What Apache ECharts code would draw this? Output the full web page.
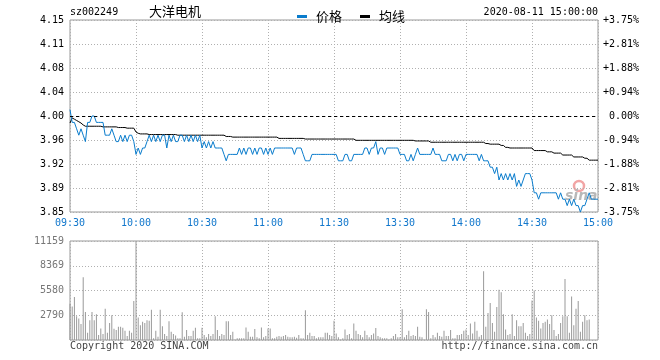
<!DOCTYPE html>
<html><head><meta charset="utf-8">
<script src="https://cdn.jsdelivr.net/npm/echarts@6/dist/echarts.min.js"></script>
<style>html,body{margin:0;padding:0;background:#fff}#c{width:660px;height:360px}</style>
</head><body><div id="c"></div>
<script>
const PRE_CLOSE = 4.00;
const stockCode = 'sz002249';
const stockName = '大洋电机';
const dateTime = '2020-08-11 15:00:00';
const timeTickLabels = ['09:30','10:00','10:30','11:00','11:30','13:30','14:00','14:30','15:00'];
const priceTickLabels = ['3.85','3.89','3.92','3.96','4.00','4.04','4.08','4.11','4.15'];
const pctTickLabels = ['-3.75%','-2.81%','-1.88%','-0.94%','0.00%','+0.94%','+1.88%','+2.81%','+3.75%'];
const volTickLabels = ['','2790','5580','8369','11159'];

const prices = [
4.01,3.99,3.99,3.98,3.97,3.98,3.97,3.96,3.99,3.99,
4.00,4.00,3.99,3.99,3.99,3.99,3.97,3.97,3.97,3.98,
3.97,3.96,3.96,3.97,3.96,3.97,3.96,3.97,3.97,3.96,
3.94,3.95,3.94,3.95,3.95,3.96,3.97,3.96,3.97,3.96,
3.97,3.96,3.97,3.97,3.95,3.97,3.96,3.97,3.96,3.96,
3.97,3.97,3.96,3.97,3.96,3.97,3.96,3.97,3.96,3.97,
3.95,3.96,3.95,3.96,3.95,3.96,3.95,3.95,3.95,3.95,
3.94,3.93,3.94,3.94,3.94,3.94,3.94,3.95,3.94,3.95,
3.94,3.95,3.95,3.94,3.95,3.94,3.95,3.95,3.94,3.95,
3.94,3.95,3.94,3.95,3.95,3.95,3.95,3.95,3.95,3.95,
3.95,3.95,3.94,3.95,3.95,3.95,3.94,3.93,3.93,3.93,
3.94,3.94,3.94,3.94,3.94,3.94,3.94,3.94,3.94,3.94,
3.94,3.94,3.93,3.93,3.93,3.94,3.94,3.93,3.93,3.94,
3.94,3.94,3.94,3.94,3.95,3.95,3.94,3.95,3.95,3.96,
3.94,3.95,3.95,3.94,3.95,3.95,3.95,3.95,3.95,3.95,
3.94,3.94,3.94,3.93,3.93,3.94,3.93,3.94,3.95,3.94,
3.94,3.94,3.94,3.94,3.94,3.95,3.94,3.94,3.94,3.93,
3.93,3.93,3.94,3.94,3.93,3.94,3.93,3.94,3.94,3.93,
3.94,3.94,3.94,3.94,3.94,3.94,3.93,3.94,3.93,3.93,
3.93,3.92,3.92,3.91,3.92,3.90,3.91,3.90,3.91,3.90,
3.91,3.90,3.91,3.89,3.90,3.89,3.90,3.91,3.91,3.91,
3.90,3.88,3.88,3.87,3.88,3.88,3.88,3.88,3.88,3.88,
3.88,3.88,3.87,3.88,3.87,3.87,3.86,3.87,3.86,3.87,
3.86,3.86,3.85,3.86,3.86,3.87,3.88,3.87,3.87,3.87,
3.87
];

const avgPrices = [
3.989,3.997,3.995,3.993,3.991,3.989,3.986,3.984,3.984,3.984,
3.984,3.984,3.984,3.984,3.984,3.983,3.983,3.983,3.983,3.983,
3.983,3.983,3.982,3.982,3.982,3.982,3.981,3.981,3.981,3.981,
3.975,3.973,3.972,3.972,3.972,3.972,3.971,3.971,3.971,3.971,
3.971,3.971,3.971,3.971,3.971,3.971,3.971,3.971,3.971,3.970,
3.970,3.970,3.970,3.970,3.970,3.970,3.970,3.970,3.970,3.970,
3.970,3.970,3.970,3.970,3.970,3.970,3.970,3.970,3.970,3.970,
3.970,3.968,3.968,3.968,3.967,3.967,3.967,3.967,3.967,3.967,
3.967,3.967,3.967,3.967,3.967,3.967,3.967,3.967,3.967,3.967,
3.967,3.967,3.967,3.967,3.967,3.965,3.965,3.965,3.965,3.965,
3.965,3.965,3.965,3.965,3.965,3.965,3.965,3.964,3.964,3.964,
3.964,3.964,3.964,3.964,3.964,3.964,3.964,3.964,3.964,3.964,
3.964,3.964,3.964,3.964,3.964,3.964,3.964,3.964,3.964,3.964,
3.962,3.962,3.962,3.962,3.962,3.962,3.962,3.962,3.962,3.962,
3.962,3.962,3.962,3.962,3.962,3.962,3.962,3.962,3.962,3.962,
3.962,3.962,3.962,3.962,3.962,3.962,3.962,3.961,3.961,3.961,
3.961,3.961,3.961,3.961,3.959,3.959,3.959,3.959,3.959,3.959,
3.959,3.959,3.959,3.959,3.959,3.959,3.959,3.959,3.959,3.959,
3.959,3.959,3.959,3.959,3.959,3.959,3.959,3.959,3.959,3.957,
3.957,3.956,3.956,3.956,3.956,3.956,3.954,3.954,3.951,3.951,
3.950,3.950,3.950,3.950,3.950,3.950,3.950,3.950,3.950,3.950,
3.950,3.946,3.946,3.946,3.946,3.946,3.946,3.944,3.944,3.944,
3.942,3.942,3.942,3.942,3.939,3.939,3.939,3.939,3.939,3.936,
3.936,3.936,3.936,3.936,3.934,3.934,3.931,3.931,3.931,3.931,
3.931
];

const volumes = [
4090,3790,4840,2680,2420,1790,7070,3160,820,2230,
3160,2230,2900,560,1300,670,3530,820,1930,2790,
1270,1120,1490,1490,1380,1040,450,1040,820,4390,
11159,2530,1670,2050,1930,2230,2160,3420,190,1040,
370,3420,1560,670,450,2120,930,670,520,190,
190,3130,370,1120,450,450,1040,1380,190,190,
1380,560,300,670,450,670,2680,1120,450,670,
560,2120,2120,560,930,70,190,190,190,190,
1410,930,370,370,1230,300,190,1410,300,450,
1300,1300,190,190,370,450,370,450,560,370,
300,300,370,260,560,190,190,3350,560,820,
450,450,190,300,300,300,820,820,560,450,
2160,740,300,70,190,1190,560,670,190,1860,
1040,670,560,300,1040,560,300,560,740,1340,
450,300,190,190,190,70,190,450,670,300,
300,3460,300,560,1040,450,560,450,1490,370,
300,70,3460,3160,190,560,300,820,450,370,
1040,450,450,1120,190,190,560,560,670,1040,
1190,560,1860,740,2050,1040,370,560,7740,1490,
3050,4170,1930,930,3720,5650,5390,2900,1190,560,
670,2900,450,2230,1560,1560,1930,820,450,670,
4460,5580,2530,2160,1300,1930,2050,2310,1790,2790,
1120,450,670,1930,2680,6880,2680,820,4910,1670,
3530,4390,930,2050,2790,2230,2310,0,0,0,
0
];

// minute categories: 09:30-11:30, 13:01-15:00
const minutes = [];
function pushRange(h0, m0, h1, m1) {
  let h = h0, m = m0;
  while (h < h1 || (h === h1 && m <= m1)) {
    minutes.push(String(h).padStart(2,'0') + ':' + String(m).padStart(2,'0'));
    m++; if (m === 60) { m = 0; h++; }
  }
}
pushRange(9,30,11,30);
pushRange(13,1,15,0);

const pct = v => (v / PRE_CLOSE - 1) * 100;
const priceSeries = prices.map(pct);
const avgSeries = avgPrices.map(pct);

const MONO = '"DejaVu Sans Mono", "Liberation Mono", monospace';
const RED = '#ff0000', GREEN = '#008000', BLACK = '#000000';
const tickIdx = v => Math.round((v + 3.75) / 0.9375);
const tickColor = v => { const i = tickIdx(v); return i > 4 ? RED : (i < 4 ? GREEN : BLACK); };
const grid30 = idx => idx % 30 === 0;
const dotted = { color: '#b0b0b0', type: [1, 2], width: 1 };

const chart = echarts.init(document.getElementById('c'), null, { renderer: 'canvas' });
chart.setOption({
  animation: false,
  backgroundColor: '#fff',
  legend: {
    data: ['价格', '均线'],
    left: 292, top: 5,
    icon: 'rect', itemWidth: 10, itemHeight: 3, itemGap: 18,
    textStyle: { fontSize: 13, color: '#000', fontFamily: '"Noto Sans CJK SC", sans-serif', padding: [0, 0, 0, 4] },
    selectedMode: false
  },
  graphic: [
    { type: 'text', left: 70, top: 7, style: { text: stockCode, font: '10px ' + MONO, fill: '#000' } },
    { type: 'text', left: 149, top: 5, style: { text: stockName, font: '13px "Noto Sans CJK SC", sans-serif', fill: '#000' } },
    { type: 'text', right: 62, top: 7, style: { text: dateTime, font: '10px ' + MONO, fill: '#000' } },
    { type: 'text', left: 70, top: 341, style: { text: 'Copyright 2020 SINA.COM', font: '10px ' + MONO, fill: '#444' } },
    { type: 'text', right: 62, top: 341, style: { text: 'http://finance.sina.com.cn', font: '10px ' + MONO, fill: '#444' } },
    { type: 'circle', z: 0, shape: { cx: 579, cy: 186, r: 5 }, style: { fill: 'none', stroke: '#f2a5a5', lineWidth: 2.5 } },
    { type: 'text', z: 0, left: 565, top: 189, style: { text: 'sina', font: 'italic bold 14px "DejaVu Sans", sans-serif', fill: '#b8b8b8' } }
  ],
  grid: [
    { left: 70, top: 20, width: 528, height: 192, show: true, borderColor: '#999', borderWidth: 1, backgroundColor: 'transparent' },
    { left: 70, top: 241, width: 528, height: 99, show: true, borderColor: '#999', borderWidth: 1, backgroundColor: 'transparent' }
  ],
  xAxis: [
    {
      type: 'category', gridIndex: 0, data: minutes, boundaryGap: false,
      axisLine: { show: false }, axisTick: { show: false },
      axisLabel: {
        interval: grid30, margin: 6,
        formatter: (v, i) => timeTickLabels[Math.round(i / 30)] || v,
        color: '#1177cc', fontFamily: MONO, fontSize: 10, showMinLabel: true, showMaxLabel: true
      },
      splitLine: { show: true, interval: grid30, lineStyle: dotted }
    },
    {
      type: 'category', gridIndex: 1, data: minutes, boundaryGap: false,
      axisLine: { show: false }, axisTick: { show: false }, axisLabel: { show: false },
      splitLine: { show: true, interval: grid30, lineStyle: dotted }
    }
  ],
  yAxis: [
    {
      type: 'value', gridIndex: 0, position: 'left', min: -3.75, max: 3.75, interval: 0.9375,
      axisLine: { show: false }, axisTick: { show: false },
      axisLabel: {
        margin: 6, fontFamily: MONO, fontSize: 10, showMinLabel: true, showMaxLabel: true,
        formatter: v => priceTickLabels[tickIdx(v)],
        color: v => tickColor(v)
      },
      splitLine: { show: true, lineStyle: dotted }
    },
    {
      type: 'value', gridIndex: 0, position: 'right', min: -3.75, max: 3.75, interval: 0.9375,
      axisLine: { show: false }, axisTick: { show: false },
      axisLabel: {
        margin: 41, align: 'right', fontFamily: MONO, fontSize: 10, showMinLabel: true, showMaxLabel: true,
        formatter: v => pctTickLabels[tickIdx(v)],
        color: v => tickColor(v)
      },
      splitLine: { show: false }
    },
    {
      type: 'value', gridIndex: 1, position: 'left', min: 0, max: 11159, interval: 2789.75,
      axisLine: { show: false }, axisTick: { show: false },
      axisLabel: {
        margin: 6, fontFamily: MONO, fontSize: 10, color: '#777', showMinLabel: true, showMaxLabel: true,
        formatter: v => volTickLabels[Math.round(v / 2789.75)]
      },
      splitLine: { show: true, lineStyle: dotted }
    }
  ],
  series: [
    {
      name: '价格', type: 'line', xAxisIndex: 0, yAxisIndex: 0, data: priceSeries,
      showSymbol: false, symbol: 'none', z: 4,
      lineStyle: { color: '#0a7ccc', width: 1 }, itemStyle: { color: '#0a7ccc' },
      markLine: {
        silent: true, symbol: 'none', label: { show: false },
        lineStyle: { color: '#000', type: [3, 3], width: 1 },
        data: [{ yAxis: 0 }]
      }
    },
    {
      name: '均线', type: 'line', xAxisIndex: 0, yAxisIndex: 0, data: avgSeries,
      showSymbol: false, symbol: 'none', z: 3,
      lineStyle: { color: '#000', width: 1 }, itemStyle: { color: '#000' }
    },
    {
      name: '成交量', type: 'bar', xAxisIndex: 1, yAxisIndex: 2, data: volumes,
      barWidth: 1, itemStyle: { color: '#999' }
    }
  ]
});
</script>
</body></html>
